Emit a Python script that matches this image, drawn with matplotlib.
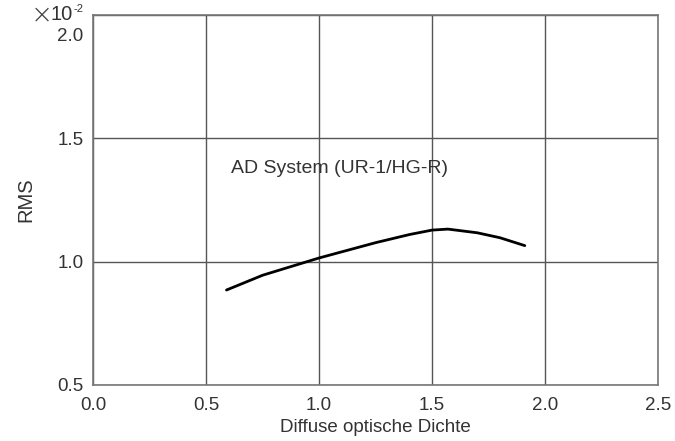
import numpy as np
import matplotlib
matplotlib.use('Agg')
import matplotlib.pyplot as plt
from matplotlib.transforms import ScaledTranslation

plt.rcParams['font.family'] = ['Liberation Sans', 'DejaVu Sans']

# values (RMS in units of 1e-2)
density = [0.59, 0.75, 1.0, 1.25, 1.4, 1.5, 1.57, 1.7, 1.8, 1.91]
rms = [0.885, 0.945, 1.015, 1.077, 1.11, 1.128, 1.132, 1.117, 1.097, 1.065]

x_ticks = [0.0, 0.5, 1.0, 1.5, 2.0, 2.5]
y_ticks = [0.5, 1.0, 1.5, 2.0]

fig = plt.figure(figsize=(6.75, 4.41), dpi=100)
ax = fig.add_axes([0.138, 0.127, 0.837, 0.839])

ax.plot(density, rms, color='black', lw=2.0, solid_capstyle='round')

ax.set_xlim(0, 2.5)
ax.set_ylim(0.5, 2.0)
ax.set_xticks(x_ticks)
ax.set_yticks(y_ticks)
ax.set_xticklabels([f'{v:.1f}' for v in x_ticks], color='#333333')
ax.set_yticklabels([f'{v:.1f}' for v in y_ticks], color='#333333')
ax.tick_params(length=0, labelsize=13.5)
ax.tick_params(axis='x', pad=9)
ax.tick_params(axis='y', pad=7)
ax.grid(True, color='#555555', lw=1)
for s in ax.spines.values():
    s.set_color('#777777')
    s.set_linewidth(1.2)

# top y label sits below the frame in the reference
top_lbl = ax.get_yticklabels()[-1]
top_lbl.set_transform(top_lbl.get_transform() + ScaledTranslation(0, -0.2, fig.dpi_scale_trans))

ax.set_xlabel('Diffuse optische Dichte', fontsize=13.5, color='#333333', labelpad=3)
ax.set_ylabel('RMS', fontsize=14.5, color='#333333', labelpad=16)

ax.text(0.61, 1.379, 'AD System (UR-1/HG-R)', fontsize=14, color='#333333', va='center')

# multiplier label: large cross, then 10, then small -2
fig.text(31 / 675, 1 - 15 / 441, '×', fontsize=19, color='#444444',
         ha='left', va='center', family='DejaVu Sans', fontweight='light')
fig.text(51 / 675, 1 - 15 / 441, '10', fontsize=14.5, color='#333333',
         ha='left', va='center')
fig.text(73 / 675, 1 - 9 / 441, '-2', fontsize=8, color='#333333',
         ha='left', va='center')

fig.savefig('out.png', dpi=100)
